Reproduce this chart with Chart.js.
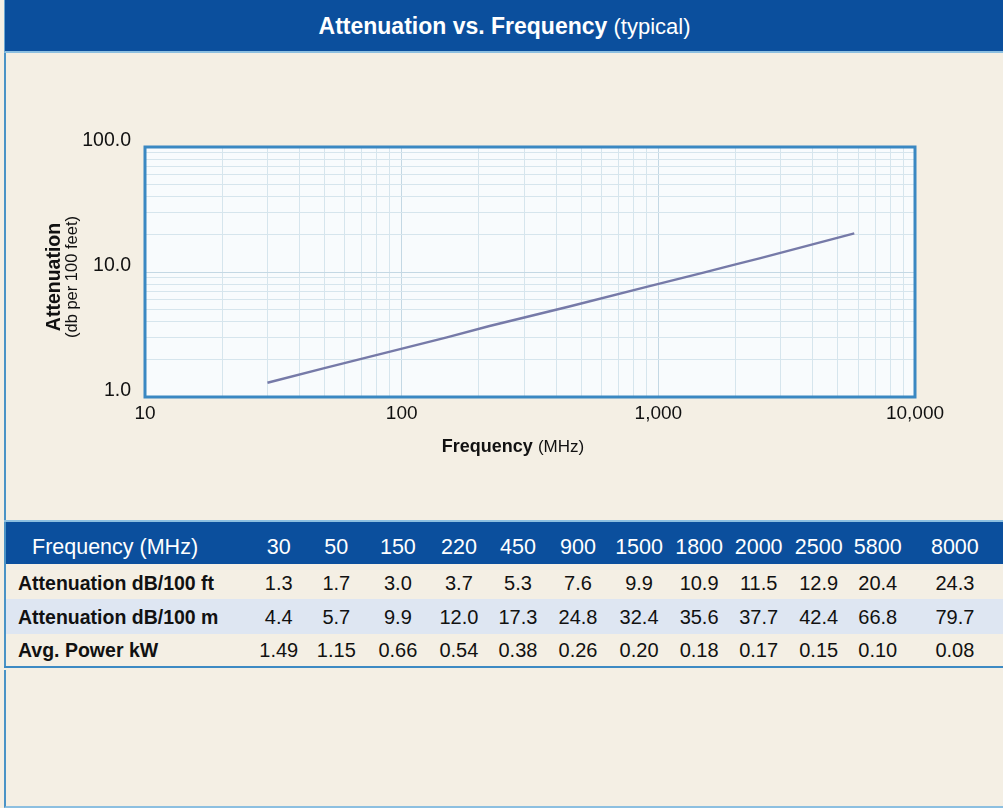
<!DOCTYPE html>
<html>
<head>
<meta charset="utf-8">
<script src="https://cdn.jsdelivr.net/npm/chart.js@4.4.1/dist/chart.umd.min.js"></script>
<style>
html,body{margin:0;padding:0;}
body{width:1003px;height:808px;background:#f4efe4;position:relative;overflow:hidden;font-family:"Liberation Sans",Arial,Helvetica,sans-serif;color:#111;}
#hdr{position:absolute;left:4px;top:0;width:999px;height:51px;background:#0b4f9d;border-left:1px solid #6aa6d2;border-bottom:2px solid #8cbfe0;color:#fff;text-align:center;line-height:52px;font-size:22px;white-space:nowrap;}
#hdr b{font-size:23px;}
#box1{position:absolute;left:4px;top:53px;width:999px;height:467px;border-left:2px solid #4a93c6;box-sizing:border-box;}
#wrap{position:absolute;left:0;top:0;width:1003px;height:520px;}
#tbl{position:absolute;left:4px;top:520px;width:999px;border-collapse:collapse;table-layout:fixed;border-left:2px solid #4a93c6;border-top:2px solid #8cbfe0;border-bottom:2px solid #3d8ac3;}
#tbl td,#tbl th{padding:0;text-align:center;white-space:nowrap;overflow:visible;}
#tbl tr.h{background:#0b4f9d;color:#fff;height:43px;font-size:21.5px;}
#tbl tr.h th{font-weight:normal;padding-top:9px;}
#tbl tr.h th.lab{text-align:left;padding-left:26px;}
#tbl tr.r{font-size:20px;}
#tbl tr.r td.lab{text-align:left;padding-left:12px;font-weight:bold;font-size:19.5px;}
#tbl tr.r1{background:#f4efe4;height:35px;}
#tbl tr.r1 td{padding-top:3px;}
#tbl tr.r2{background:#dee6f2;height:35px;}
#tbl tr.r2 td{padding-top:1px;}
#tbl tr.r3{background:#f4efe4;height:33px;}
#tbl tr.r3 td{padding-top:1px;}
#box2{position:absolute;left:4px;top:670px;width:999px;height:138px;border-left:2px solid #4a93c6;border-bottom:2px solid #8cbfe0;box-sizing:border-box;}
</style>
</head>
<body>
<div id="hdr"><b>Attenuation vs. Frequency</b> (typical)</div>
<div id="box1"></div>
<div id="wrap"><canvas id="c" width="1003" height="520"></canvas></div>
<table id="tbl">
  <colgroup id="cols"></colgroup>
  <tbody id="tb"></tbody>
</table>
<div id="box2"></div>
<script>
// ---- data ----
const freqMHz      = [30, 50, 150, 220, 450, 900, 1500, 1800, 2000, 2500, 5800, 8000];
const attenDb100ft = [1.3, 1.7, 3.0, 3.7, 5.3, 7.6, 9.9, 10.9, 11.5, 12.9, 20.4, 24.3];
const attenDb100m  = [4.4, 5.7, 9.9, 12.0, 17.3, 24.8, 32.4, 35.6, 37.7, 42.4, 66.8, 79.7];
const avgPowerKw   = [1.49, 1.15, 0.66, 0.54, 0.38, 0.26, 0.20, 0.18, 0.17, 0.15, 0.10, 0.08];
const curveLastFreq = 5800;           // the plotted curve stops at 5800 MHz
const xTickValues = [10, 100, 1000, 10000];
const xTickLabels = ['10', '100', '1,000', '10,000'];
const yTickValues = [1, 10, 100];
const yTickLabels = ['1.0', '10.0', '100.0'];
const rowLabels = ['Attenuation dB/100 ft', 'Attenuation dB/100 m', 'Avg. Power kW'];
const headerLabel = 'Frequency (MHz)';

// ---- table ----
const colWidths = [246, 55, 60, 63, 59, 59, 61, 61, 59, 60, 60, 58, 96];
const cg = document.getElementById('cols');
colWidths.forEach(w => { const c = document.createElement('col'); c.style.width = w + 'px'; cg.appendChild(c); });
const tb = document.getElementById('tb');
function addRow(cls, label, vals, tag, fmt) {
  const tr = document.createElement('tr'); tr.className = cls;
  const l = document.createElement(tag); l.className = 'lab'; l.textContent = label; tr.appendChild(l);
  vals.forEach(v => { const c = document.createElement(tag); c.textContent = fmt(v); tr.appendChild(c); });
  tb.appendChild(tr);
}
addRow('h', headerLabel, freqMHz, 'th', v => String(v));
addRow('r r1', rowLabels[0], attenDb100ft, 'td', v => v.toFixed(1));
addRow('r r2', rowLabels[1], attenDb100m, 'td', v => v.toFixed(1));
addRow('r r3', rowLabels[2], avgPowerKw, 'td', v => v.toFixed(2));

// ---- chart ----
const FONT = '"Liberation Sans", Arial, Helvetica, sans-serif';
function decadeGrid(lo, hi) {           // 1..9 x 10^k gridline values
  const out = [];
  for (let d = lo; d < hi; d *= 10) for (let m = 1; m < 10; m++) out.push(m * d);
  out.push(hi);
  return out;
}
const pts = [];
freqMHz.forEach((f, i) => { if (f <= curveLastFreq) pts.push({x: f, y: attenDb100ft[i]}); });

const bgPlugin = {
  id: 'bg',
  beforeDraw(chart) {
    const a = chart.chartArea, c = chart.ctx;
    c.save(); c.fillStyle = '#f8fbfd'; c.fillRect(a.left, a.top, a.right - a.left, a.bottom - a.top); c.restore();
  },
  afterDraw(chart) {
    const a = chart.chartArea, c = chart.ctx;
    c.save();
    c.strokeStyle = '#3a88c2'; c.lineWidth = 3;
    c.strokeRect(a.left, a.top, a.right - a.left, a.bottom - a.top);
    // y axis title
    c.fillStyle = '#111'; c.textAlign = 'center'; c.textBaseline = 'middle';
    c.translate(55, 277);
    c.rotate(-Math.PI / 2);
    c.font = 'bold 19.5px ' + FONT; c.fillText('Attenuation', 0, 0);
    c.font = '16.5px ' + FONT; c.fillText('(db per 100 feet)', 0, 17);
    c.restore();
    // x axis title
    c.save();
    c.fillStyle = '#111'; c.textBaseline = 'middle'; c.textAlign = 'left';
    c.font = 'bold 18px ' + FONT; const t1 = 'Frequency ';
    const w1 = c.measureText(t1).width;
    c.font = '17px ' + FONT; const t2 = '(MHz)'; const w2 = c.measureText(t2).width;
    const x0 = 513 - (w1 + w2) / 2, y0 = 447;
    c.font = 'bold 18px ' + FONT; c.fillText(t1, x0, y0);
    c.font = '17px ' + FONT; c.fillText(t2, x0 + w1, y0);
    c.restore();
  }
};

function gridColor(ctx, majors) {
  const v = ctx.tick && ctx.tick.value;
  return majors.includes(v) ? '#c4d8e4' : '#d6e5ed';
}

new Chart(document.getElementById('c'), {
  type: 'line',
  data: { datasets: [{ data: pts, borderColor: '#767aa8', borderWidth: 2.4, pointRadius: 0, tension: 0, fill: false }] },
  options: {
    responsive: false, animation: false, devicePixelRatio: 1,
    layout: { padding: { top: 147, right: 88, bottom: 0, left: 0 } },
    plugins: { legend: { display: false }, tooltip: { enabled: false } },
    scales: {
      x: {
        type: 'logarithmic', min: 10, max: 10000,
        afterBuildTicks: s => { s.ticks = decadeGrid(10, 10000).map(v => ({ value: v })); },
        afterFit: s => { s.height = 123; },
        grid: { color: ctx => gridColor(ctx, xTickValues), lineWidth: 1, drawTicks: false },
        border: { display: false },
        ticks: { autoSkip: false, maxRotation: 0, padding: 5, color: '#111', font: { size: 19, family: FONT },
          callback: v => { const i = xTickValues.indexOf(v); return i >= 0 ? xTickLabels[i] : ''; } }
      },
      y: {
        type: 'logarithmic', min: 1, max: 100,
        afterBuildTicks: s => { s.ticks = decadeGrid(1, 100).map(v => ({ value: v })); },
        afterFit: s => { s.width = 145; },
        grid: { color: ctx => gridColor(ctx, yTickValues), lineWidth: 1, drawTicks: false },
        border: { display: false },
        ticks: { autoSkip: false, padding: 14, labelOffset: -6, color: '#111', font: { size: 19.5, family: FONT },
          callback: v => { const i = yTickValues.indexOf(v); return i >= 0 ? yTickLabels[i] : ''; } }
      }
    }
  },
  plugins: [bgPlugin]
});
</script>
</body>
</html>
